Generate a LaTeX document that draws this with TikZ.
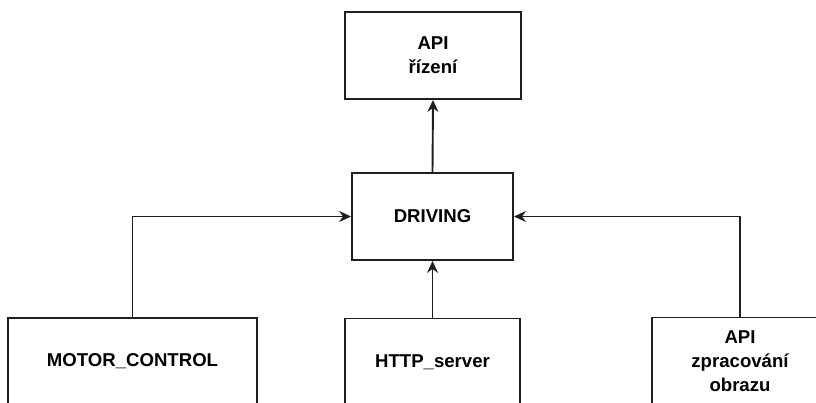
\documentclass[tikz,border=0pt]{standalone}
\usepackage{fontspec}
\setmainfont{Liberation Sans}
\usetikzlibrary{arrows.meta}
\begin{document}
\begin{tikzpicture}[x=1pt,y=-1pt,
  blk/.style={draw=black!88, line width=1.9pt, fill=white, inner sep=0pt,
    minimum height=87pt, align=center,
    font=\fontsize{18.6}{24.2}\selectfont\bfseries},
  arr/.style={draw=black!88, line width=1.9pt,
    -{Stealth[length=12pt,width=11pt,inset=4pt]}}]
  \useasboundingbox (0,0) rectangle (816,403);
  \clip (0,0) rectangle (816,403);
  % modules
  \node[blk, minimum width=176pt] (api)   at (433,55.5)  {API\\řízení};
  \node[blk, minimum width=161pt] (drv)   at (432.5,216.5) {DRIVING};
  \node[blk, minimum width=249pt] (motor) at (132.5,361.5) {MOTOR\_CONTROL};
  \node[blk, minimum width=175pt] (http)  at (432.5,362) {HTTP\_server};
  \node[blk, minimum width=176pt] (img)   at (740,361) {API\\zpracování\\obrazu};
  % data flow
  \draw[arr] (drv.north) -- (api.south);
  \draw[arr] (http.north) -- (drv.south);
  \draw[arr] (motor.north) |- (drv.west);
  \draw[arr] (img.north) |- (drv.east);
\end{tikzpicture}
\end{document}
